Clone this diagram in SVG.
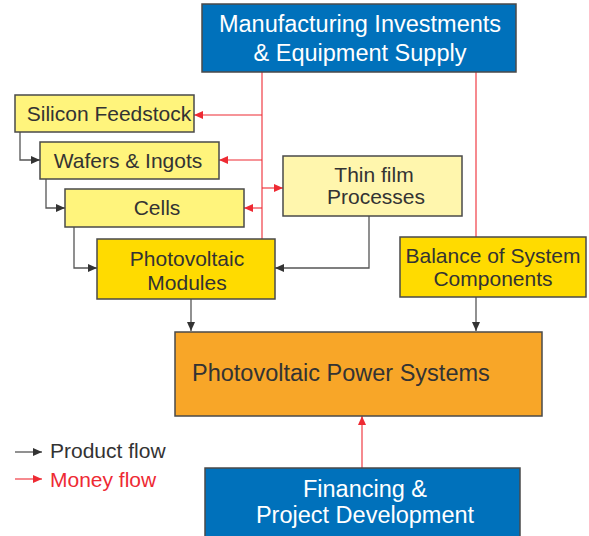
<svg xmlns="http://www.w3.org/2000/svg" width="589" height="536" viewBox="0 0 589 536">
<style>
  text { font-family: "Liberation Sans", Arial, sans-serif; }
  .box { stroke: #4a4a4a; stroke-width: 1.5; }
  .blue { fill: #0071bb; }
  .lt { fill: #fff47c; }
  .pale { fill: #fff6ad; }
  .gold { fill: #ffdb00; }
  .orange { fill: #f8a628; }
  .wt { fill: #ffffff; font-size: 23.5px; text-anchor: middle; }
  .dk { fill: #333333; font-size: 21px; text-anchor: middle; }
  .blk { fill: none; stroke: #555555; stroke-width: 1.3; }
  .red { fill: none; stroke: #ee2a33; stroke-width: 1.1; }
</style>
<defs>
  <marker id="ab" markerUnits="userSpaceOnUse" markerWidth="9" markerHeight="8" refX="9" refY="4" orient="auto">
    <path d="M0,0 L9,4 L0,8 z" fill="#333333"/>
  </marker>
  <marker id="ar" markerUnits="userSpaceOnUse" markerWidth="9" markerHeight="8" refX="9" refY="4" orient="auto">
    <path d="M0,0 L9,4 L0,8 z" fill="#ee2a33"/>
  </marker>
</defs>
<rect width="589" height="536" fill="#ffffff"/>

<g id="connectors">
  <path class="blk" d="M20,132 V160 H40" marker-end="url(#ab)"/>
  <path class="blk" d="M46,179 V208 H65" marker-end="url(#ab)"/>
  <path class="blk" d="M74,227 V268 H97" marker-end="url(#ab)"/>
  <path class="blk" d="M369,216 V268 H275" marker-end="url(#ab)"/>
  <path class="blk" d="M191,299 V331" marker-end="url(#ab)"/>
  <path class="blk" d="M476,297 V331" marker-end="url(#ab)"/>
  <path class="red" d="M262,72 V239"/>
  <path class="red" d="M262,115 H194" marker-end="url(#ar)"/>
  <path class="red" d="M262,160 H219" marker-end="url(#ar)"/>
  <path class="red" d="M262,208 H244" marker-end="url(#ar)"/>
  <path class="red" d="M262,188 H283" marker-end="url(#ar)"/>
  <path class="red" d="M476,72 V237"/>
  <path class="red" d="M362,468 V416" marker-end="url(#ar)"/>
  <polygon points="189,242 197,242 193,249" fill="#ee2a33"/>
</g>

<g id="manufacturing">
  <rect class="box blue" x="202" y="4" width="314" height="68"/>
  <text class="wt" x="360" y="32">Manufacturing Investments</text>
  <text class="wt" x="360" y="61">&amp; Equipment Supply</text>
</g>
<g id="silicon">
  <rect class="box lt" x="15" y="95" width="179" height="37"/>
  <text class="dk" x="109" y="121">Silicon Feedstock</text>
</g>
<g id="wafers">
  <rect class="box lt" x="40" y="142" width="179" height="37"/>
  <text class="dk" x="128" y="168">Wafers &amp; Ingots</text>
</g>
<g id="cells">
  <rect class="box lt" x="65" y="189" width="179" height="38"/>
  <text class="dk" x="157" y="215">Cells</text>
</g>
<g id="thinfilm">
  <rect class="box pale" x="283" y="156" width="179" height="60"/>
  <text class="dk" x="374" y="182" font-size="20">Thin film</text>
  <text class="dk" x="376" y="204" font-size="20">Processes</text>
</g>
<g id="modules">
  <rect class="box gold" x="97" y="239" width="178" height="60"/>
  <text class="dk" x="187" y="266">Photovoltaic</text>
  <text class="dk" x="187" y="290">Modules</text>
</g>
<g id="bos">
  <rect class="box gold" x="400" y="237" width="186" height="60"/>
  <text class="dk" x="493" y="263">Balance of System</text>
  <text class="dk" x="493" y="286">Components</text>
</g>
<g id="pvsystems">
  <rect class="box orange" x="175" y="332" width="367" height="84"/>
  <text x="192" y="381" font-size="23.5" fill="#333333">Photovoltaic Power Systems</text>
</g>
<g id="financing">
  <rect class="box blue" x="205" y="468" width="315" height="70"/>
  <text class="wt" x="365" y="497">Financing &amp;</text>
  <text class="wt" x="365" y="523">Project Development</text>
</g>
<g id="legend">
  <path class="blk" d="M15,452 H42" marker-end="url(#ab)"/>
  <text x="50" y="458" font-size="21" fill="#333333">Product flow</text>
  <path class="red" d="M15,479 H42" marker-end="url(#ar)"/>
  <text x="50" y="487" font-size="21" fill="#ee2a33">Money flow</text>
</g>
</svg>
